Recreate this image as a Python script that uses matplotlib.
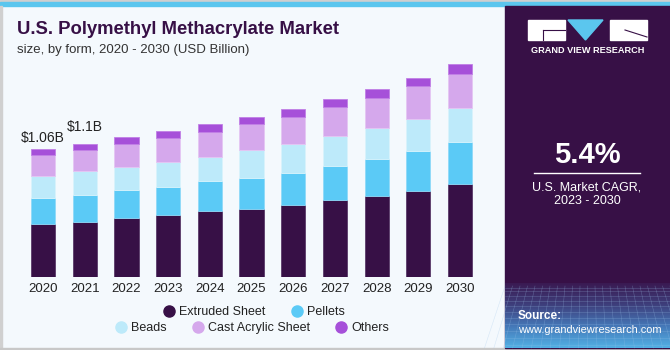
import matplotlib.pyplot as plt
import numpy as np
from matplotlib.patches import Rectangle, Polygon
from matplotlib.colors import LinearSegmentedColormap
from matplotlib.lines import Line2D

years = ['2020', '2021', '2022', '2023', '2024', '2025', '2026', '2027', '2028', '2029', '2030']
segments = ['Extruded Sheet', 'Pellets', 'Beads', 'Cast Acrylic Sheet', 'Others']
extruded = [0.439, 0.458, 0.491, 0.513, 0.547, 0.566, 0.599, 0.640, 0.673, 0.715, 0.773]
pellets = [0.215, 0.224, 0.227, 0.234, 0.246, 0.257, 0.265, 0.282, 0.304, 0.326, 0.343]
beads = [0.182, 0.199, 0.195, 0.205, 0.204, 0.232, 0.240, 0.248, 0.257, 0.270, 0.282]
cast = [0.174, 0.169, 0.190, 0.196, 0.205, 0.210, 0.224, 0.235, 0.246, 0.268, 0.287]
others = [0.050, 0.055, 0.053, 0.063, 0.066, 0.063, 0.064, 0.066, 0.077, 0.071, 0.078]
labels = {0: '$1.06B', 1: '$1.1B'}

colors = ['#371046', '#5BCAF6', '#BDEAFA', '#D5A8EC', '#A650D9']
edges = ['#5a3a6a', '#8fd9f8', '#d8f3fc', '#e4c6f3', '#c17fe6']

plt.rcParams['font.family'] = ['Liberation Sans', 'DejaVu Sans']

W, H = 670, 350
fig = plt.figure(figsize=(W / 100, H / 100), dpi=100)
fig.patch.set_facecolor('#F4F9FD')

# decorations in pixel coordinates
bg = fig.add_axes([0, 0, 1, 1])
bg.set_xlim(0, W)
bg.set_ylim(H, 0)
bg.axis('off')
bg.add_patch(Rectangle((0, 0), W, 1.5, color='#cfcfcf'))
bg.add_patch(Rectangle((0, 1.5), W, 4.5, color='#5BC6EE'))
bg.add_patch(Rectangle((0, 6), 1.5, H, color='#d0d0d0'))
bg.add_patch(Rectangle((0, H - 2), W, 2, color='#c8c8c8'))

# right panel
bg.add_patch(Rectangle((505, 6), W - 505, H - 8, color='#371046'))
grad = np.linspace(0, 1, 100)[:, None]
cm = LinearSegmentedColormap.from_list('p', ['#3a1a52', '#3e3f7c', '#4578b8', '#52b0e4'])
bg.imshow(grad, cmap=cm, extent=(505, W, H - 2, 283), aspect='auto', zorder=1)
bg.set_xlim(0, W)
bg.set_ylim(H, 0)
# faint perspective grid texture
for i in range(12):
    yy = 288 + i ** 1.25 * 3.2
    bg.plot([505, W], [yy, yy], color='#9cc4ea', lw=0.4, alpha=0.35, zorder=2)
for i in range(24):
    xx = 505 + i * 7.5
    bg.plot([xx, xx + (xx - 587) * 0.25], [286, H - 2], color='#9cc4ea', lw=0.4, alpha=0.35, zorder=2)

# logo
bg.add_patch(Rectangle((528, 20), 37, 20, color='white', zorder=4))
bg.add_patch(Polygon([(568, 20), (603, 20), (585.5, 40)], color='#5BC6EE', zorder=4))
bg.add_patch(Rectangle((610, 20), 37, 20, color='white', zorder=4))
bg.plot([543, 565], [30, 30], color='#371046', lw=0.8, zorder=5)
bg.plot([543, 543], [30, 40], color='#371046', lw=0.8, zorder=5)
bg.plot([625, 647], [30, 37], color='#371046', lw=0.8, zorder=5)
bg.text(587.5, 50.5, 'GRAND VIEW RESEARCH', color='white', fontsize=6.6, fontweight='bold',
        ha='center', va='center', zorder=5)
bg.text(587, 155, '5.4%', color='white', fontsize=21, fontweight='bold', ha='center', va='center', zorder=5)
bg.plot([534, 640], [173, 173], color='white', lw=1, zorder=5)
bg.text(587, 187, 'U.S. Market CAGR,', color='white', fontsize=9, ha='center', va='center', zorder=5)
bg.text(587, 201, '2023 - 2030', color='white', fontsize=9, ha='center', va='center', zorder=5)
bg.text(518, 316, 'Source:', color='white', fontsize=8.5, fontweight='bold', ha='left', va='center', zorder=5)
bg.text(518, 330, 'www.grandviewresearch.com', color='white', fontsize=7.9, ha='left', va='center', zorder=5)

# titles
bg.text(17, 30, 'U.S. Polymethyl Methacrylate Market', color='#371046', fontsize=13.3,
        fontweight='heavy', ha='left', va='center')
bg.text(17, 50, 'size, by form, 2020 - 2030 (USD Billion)', color='#333333', fontsize=9.5,
        ha='left', va='center')

# chart
ax = fig.add_axes([22.2 / W, 73 / H, 458.7 / W, 241.5 / H])
ax.set_facecolor('none')
x = np.arange(len(years))
data = [extruded, pellets, beads, cast, others]
bottom = np.zeros(len(years))
for vals, name, c, e in zip(data, segments, colors, edges):
    ax.bar(x, vals, 0.58, bottom=bottom, color=c, edgecolor=e, linewidth=0.6, label=name)
    bottom += np.array(vals)
offsets = {0: 0.09, 1: 0.14}
for i, t in labels.items():
    ax.text(x[i], bottom[i] + offsets[i], t, ha='center', va='center', fontsize=10, color='#222222')
ax.set_xlim(-0.5, 10.5)
ax.set_ylim(0, 2.0)
ax.set_xticks(x)
ax.set_xticklabels(years, fontsize=9.5, color='#222222')
ax.tick_params(axis='x', length=0, pad=4)
ax.set_yticks([])
for s in ax.spines.values():
    s.set_visible(False)

mk = [Line2D([], [], marker='o', ls='', color=c, markersize=8) for c in colors]
leg1 = fig.legend(mk[:2], segments[:2], loc='center', bbox_to_anchor=(254 / W, 1 - 312 / H),
                  ncol=2, frameon=False, fontsize=9, handletextpad=0.3, columnspacing=2.0,
                  handlelength=1.0)
leg2 = fig.legend(mk[2:], segments[2:], loc='center', bbox_to_anchor=(252 / W, 1 - 328 / H),
                  ncol=3, frameon=False, fontsize=9, handletextpad=0.3, columnspacing=2.0,
                  handlelength=1.0)
for lg in (leg1, leg2):
    for t in lg.get_texts():
        t.set_color('#222222')

fig.savefig('out.png', dpi=100, facecolor=fig.get_facecolor())
